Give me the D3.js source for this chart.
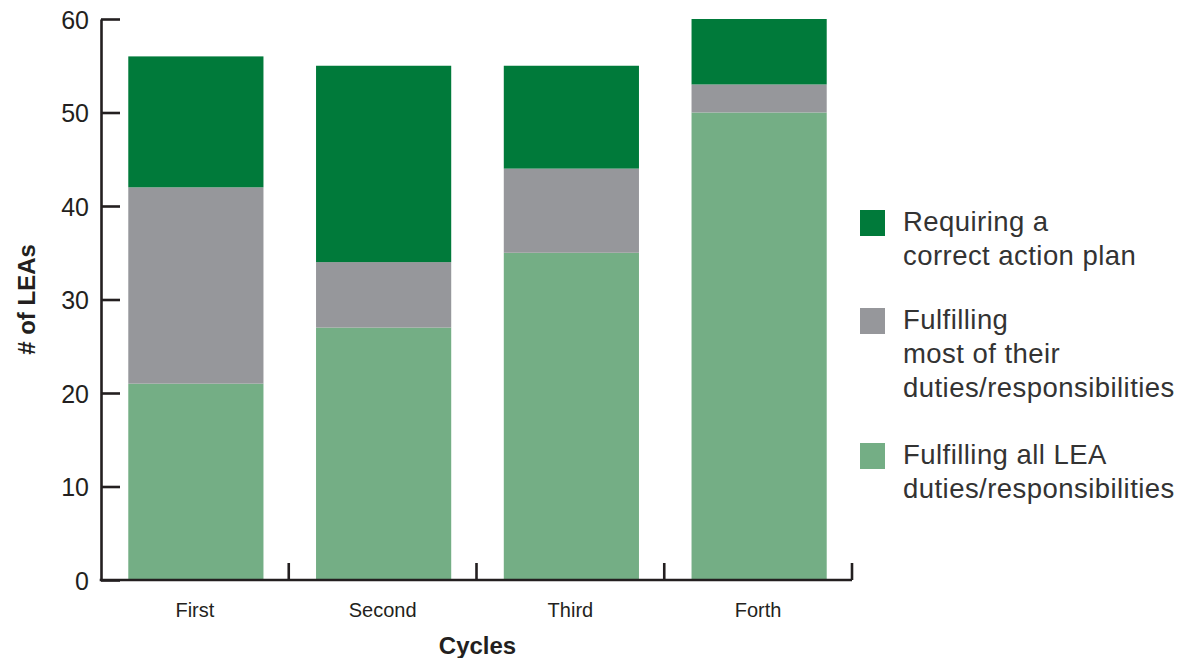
<!DOCTYPE html>
<html>
<head>
<meta charset="utf-8">
<script src="https://cdn.jsdelivr.net/npm/d3@7"></script>
<style>
  html, body { margin: 0; padding: 0; background: #fff; }
  svg { display: block; }
</style>
</head>
<body>
<svg id="chart" width="1181" height="658"></svg>
<script>
// Number of LEAs by monitoring cycle, stacked by compliance status
const cycles = ["First", "Second", "Third", "Forth"];
const fulfillingAll = [21, 27, 35, 50];
const fulfillingMost = [21, 7, 9, 3];
const requiringPlan = [14, 21, 11, 7];
const yTicks = [0, 10, 20, 30, 40, 50, 60];

const seriesKeys = ["all", "most", "plan"];
const seriesColors = { all: "#74ae85", most: "#96979b", plan: "#007a3a" };

const legendItems = [
  { key: "plan", lines: ["Requiring a", "correct action plan"] },
  { key: "most", lines: ["Fulfilling", "most of their", "duties/responsibilities"] },
  { key: "all", lines: ["Fulfilling all LEA", "duties/responsibilities"] }
];

const rows = cycles.map((c, i) => ({
  cycle: c,
  all: fulfillingAll[i],
  most: fulfillingMost[i],
  plan: requiringPlan[i]
}));

const svg = d3.select("#chart");
const font = "'Liberation Sans', Arial, Helvetica, sans-serif";
const ink = "#231f20";

const plotLeft = 101, plotRight = 852, plotTop = 19, plotBottom = 580;

const x = d3.scaleBand().domain(cycles).range([plotLeft, plotRight]).padding(0);
const y = d3.scaleLinear().domain([0, 60]).range([plotBottom, plotTop]);

const barW = x.bandwidth() * 0.72;

const stacked = d3.stack().keys(seriesKeys)(rows);

// Bars
svg.append("g")
  .selectAll("g")
  .data(stacked)
  .join("g")
  .attr("fill", d => seriesColors[d.key])
  .selectAll("rect")
  .data(d => d)
  .join("rect")
  .attr("x", d => x(d.data.cycle) + (x.bandwidth() - barW) / 2 + 1)
  .attr("width", barW)
  .attr("y", d => y(d[1]))
  .attr("height", d => y(d[0]) - y(d[1]));

// Y axis with inward ticks
const yAxis = svg.append("g")
  .attr("transform", `translate(${plotLeft},0)`)
  .call(d3.axisLeft(y).tickValues(yTicks).tickSizeInner(-19).tickSizeOuter(0).tickPadding(12));
yAxis.select(".domain").attr("stroke", ink).attr("stroke-width", 2.6);
yAxis.selectAll(".tick line").attr("stroke", ink).attr("stroke-width", 2.6);
yAxis.selectAll(".tick text")
  .attr("fill", ink)
  .attr("font-family", font)
  .attr("font-size", 25)
  .attr("dy", "0.36em");

// X axis: category labels centred in bands, ticks at band edges
const xAxis = svg.append("g")
  .attr("transform", `translate(0,${plotBottom})`)
  .call(d3.axisBottom(x).tickSize(0).tickPadding(23));
xAxis.select(".domain").attr("stroke", ink).attr("stroke-width", 2.6)
  .attr("d", `M${plotLeft - 1.3},0H${plotRight}`);
xAxis.selectAll(".tick text")
  .attr("fill", ink)
  .attr("font-family", font)
  .attr("font-size", 20);

svg.append("g")
  .selectAll("line")
  .data(cycles)
  .join("line")
  .attr("x1", d => x(d) + x.bandwidth())
  .attr("x2", d => x(d) + x.bandwidth())
  .attr("y1", plotBottom)
  .attr("y2", plotBottom - 17)
  .attr("stroke", ink)
  .attr("stroke-width", 2.6);

// Axis titles
svg.append("text")
  .attr("x", (plotLeft + plotRight) / 2 + 1)
  .attr("y", 654)
  .attr("text-anchor", "middle")
  .attr("font-family", font)
  .attr("font-weight", "bold")
  .attr("font-size", 24)
  .attr("fill", ink)
  .text("Cycles");

svg.append("text")
  .attr("transform", `translate(35,${(plotTop + plotBottom) / 2}) rotate(-90)`)
  .attr("text-anchor", "middle")
  .attr("font-family", font)
  .attr("font-weight", "bold")
  .attr("font-size", 24)
  .attr("fill", ink)
  .text("# of LEAs");

// Legend
const legendTops = [210, 308, 443];
const lineH = 34;
const legend = svg.append("g");
legendItems.forEach((item, i) => {
  const g = legend.append("g").attr("transform", `translate(860,${legendTops[i]})`);
  g.append("rect")
    .attr("width", 25).attr("height", 26)
    .attr("fill", seriesColors[item.key]);
  const t = g.append("text")
    .attr("font-family", font)
    .attr("font-size", 27.5)
    .attr("letter-spacing", 0.45)
    .attr("fill", "#333333");
  item.lines.forEach((ln, j) => {
    t.append("tspan")
      .attr("x", 43)
      .attr("y", 21 + j * lineH)
      .text(ln);
  });
});
</script>
</body>
</html>
